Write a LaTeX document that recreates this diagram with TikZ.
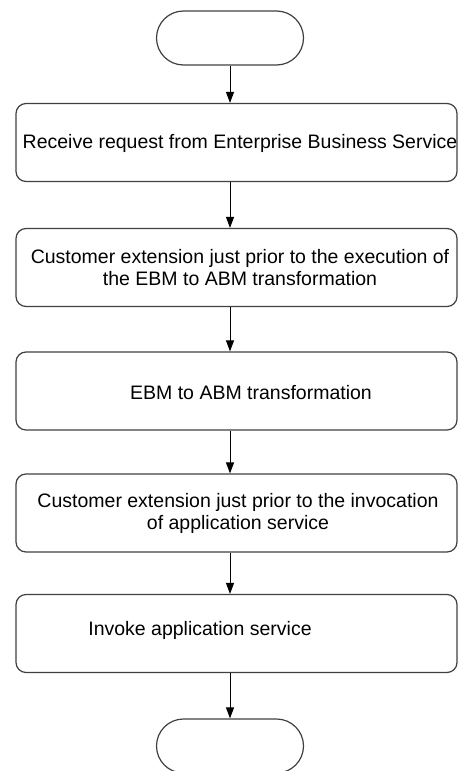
\documentclass[tikz,border=0pt]{standalone}
\usepackage{fontspec}
\setmainfont{Liberation Sans}
\usetikzlibrary{positioning,arrows.meta}
\tikzset{
    >={Triangle[length=11pt,width=8pt]},
    stepbox/.style={
        rectangle,
        rounded corners=10pt,
        draw=black!75, line width=1.2pt,
        minimum width=441pt,
        minimum height=78pt
    },
    terminal/.style={
        rectangle,
        rounded corners=27pt,
        draw=black!75, line width=1.2pt,
        minimum width=147pt,
        minimum height=54pt
    },
    steptext/.style={
        font=\fontsize{19.5}{22}\selectfont,
        align=center,
        inner sep=0pt
    },
    line/.style={draw, line width=1pt, ->}
}

\begin{document}
\begin{tikzpicture}[x=1pt, y=-1pt]
    \useasboundingbox (0,0) rectangle (458,771);
    % terminals
    \node[terminal] (start) at (230,38) {};
    \node[terminal] (stop) at (230,746) {};
    % steps
    \node[stepbox] (b1) at (236.5,142.5) {};
    \node[stepbox] (b2) at (236.5,267.5) {};
    \node[stepbox] (b3) at (236.5,391) {};
    \node[stepbox] (b4) at (236.5,513) {};
    \node[stepbox] (b5) at (236.5,633.5) {};
    % texts
    \node[steptext] (t1) at (240,143) {Receive request from Enterprise Business Service};
    \node[steptext] (t2) at (240,268) {Customer extension just prior to the execution of\\the EBM to ABM transformation};
    \node[steptext] (t3) at (251,393) {EBM to ABM transformation};
    \node[steptext] (t4) at (238,513) {Customer extension just prior to the invocation\\of application service};
    \node[steptext] (t5) at (200,630) {Invoke application service};
    % flow
    \draw[line] (start.south) -- (b1.north -| start);
    \draw[line] (b1.south -| start) -- (b2.north -| start);
    \draw[line] (b2.south -| start) -- (b3.north -| start);
    \draw[line] (b3.south -| start) -- (b4.north -| start);
    \draw[line] (b4.south -| start) -- (b5.north -| start);
    \draw[line] (b5.south -| start) -- (stop.north);
\end{tikzpicture}
\end{document}
